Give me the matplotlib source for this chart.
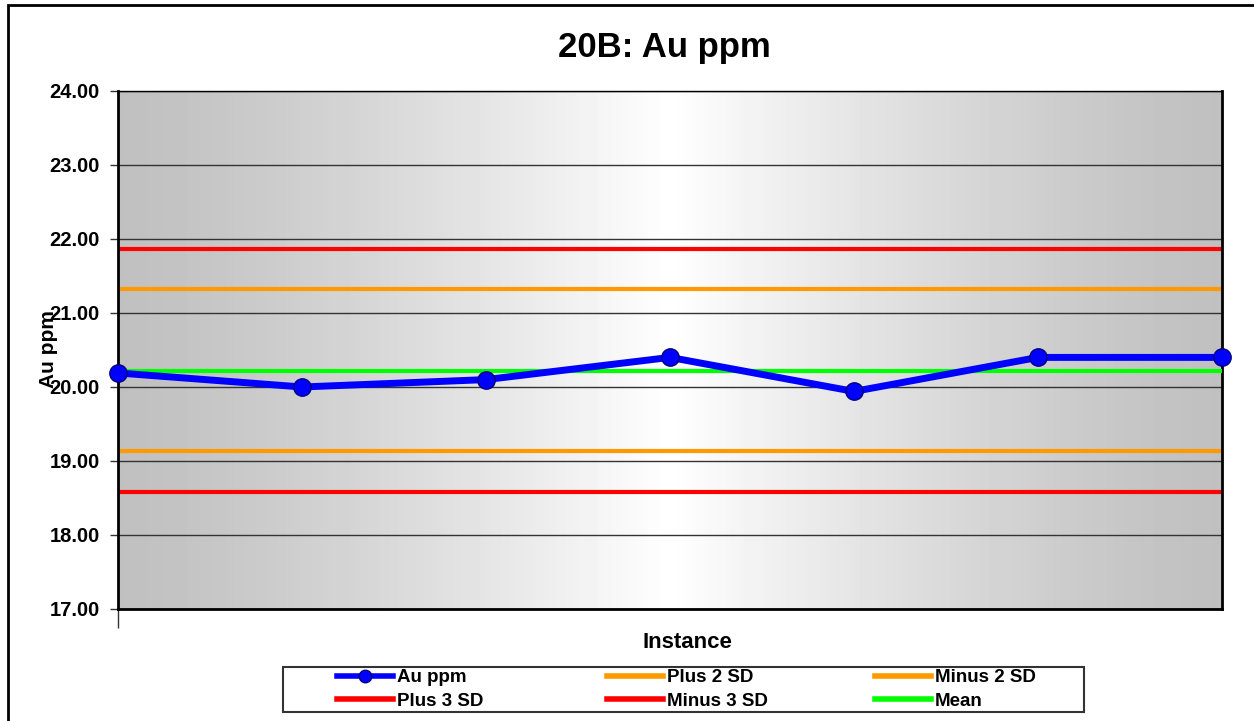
import matplotlib.pyplot as plt
import numpy as np
from matplotlib.patches import Rectangle
from matplotlib.lines import Line2D

plt.rcParams['font.family'] = ['Liberation Sans', 'DejaVu Sans']

instances = [1, 2, 3, 4, 5, 6, 7]
au_ppm = [20.19, 20.00, 20.10, 20.40, 19.94, 20.40, 20.40]
mean = 20.22
plus_2sd = 21.32
minus_2sd = 19.13
plus_3sd = 21.87
minus_3sd = 18.58

W, H = 1254, 721
fig = plt.figure(figsize=(W / 100, H / 100), dpi=100)
ax = fig.add_axes([118 / W, 1 - 609 / H, (1222 - 118) / W, (609 - 91) / H])

# horizontal gray-white-gray gradient background
t = np.linspace(0, 1, 256)
shade = 0.753 + (1.0 - 0.753) * (1 - np.abs(2 * t - 1)) ** 1.3
ax.imshow(np.tile(shade, (2, 1)), cmap="gray", vmin=0, vmax=1, aspect="auto",
          extent=[0, 1, 0, 1], transform=ax.transAxes, zorder=0)

x = np.arange(len(instances))
for y in range(17, 25):
    ax.axhline(y, color="#333333", linewidth=1, zorder=1)

ax.axhline(plus_3sd, color="#ff0000", linewidth=3, zorder=2)
ax.axhline(plus_2sd, color="#ff9900", linewidth=3, zorder=2)
ax.axhline(minus_2sd, color="#ff9900", linewidth=3, zorder=2)
ax.axhline(minus_3sd, color="#ff0000", linewidth=3, zorder=2)
ax.axhline(mean, color="#00ff00", linewidth=3, zorder=3)
ax.plot(x, au_ppm, color="#0000ff", linewidth=5, marker="o", markersize=12.5,
        markerfacecolor="#0000ff", markeredgecolor="#000080", markeredgewidth=1,
        zorder=4, clip_on=False)

ax.set_xlim(0, len(instances) - 1)
ax.set_ylim(17, 24)
ax.set_yticks(range(17, 25))
ax.set_yticklabels([f"{v:.2f}" for v in range(17, 25)], fontsize=14.5, fontweight="bold")
ax.set_xticks([0])
ax.set_xticklabels([""])
ax.tick_params(axis="x", length=14, width=1, color="#333333")
ax.tick_params(axis="y", length=6, width=1, color="#333333", pad=7)
for side in ["left", "right", "bottom"]:
    ax.spines[side].set_linewidth(2)
ax.spines["top"].set_linewidth(1)

fig.text(664 / W, 1 - 57 / H, "20B: Au ppm", fontsize=25, fontweight="bold",
         ha="center", va="baseline")
fig.text(687 / W, 1 - 648 / H, "Instance", fontsize=16, fontweight="bold",
         ha="center", va="baseline")
fig.text(49 / W, 1 - 349 / H, "Au ppm", rotation=90, fontsize=15, fontweight="bold",
         ha="center", va="center")

def h(color, marker=None):
    return Line2D([], [], color=color, linewidth=4, marker=marker, markersize=9,
                  markerfacecolor=color, markeredgecolor="#000080")

columns = [
    ([h("#0000ff", "o"), h("#ff0000")], ["Au ppm", "Plus 3 SD"], 337),
    ([h("#ff9900"), h("#ff0000")], ["Plus 2 SD", "Minus 3 SD"], 607),
    ([h("#ff9900"), h("#00ff00")], ["Minus 2 SD", "Mean"], 875),
]
for handles, labels, xpos in columns:
    leg = fig.legend(handles, labels, loc="center left",
                     bbox_to_anchor=(xpos / W, 1 - 689.5 / H), frameon=False,
                     prop={"weight": "bold", "size": 13.5}, handlelength=3.0,
                     labelspacing=0.32, handletextpad=0.2, borderpad=0,
                     borderaxespad=0)

fig.patches.append(Rectangle((283 / W, 1 - 712 / H), (1084 - 283) / W, 45 / H,
                             transform=fig.transFigure, fill=False,
                             edgecolor="#333333", linewidth=1.5))
fig.patches.append(Rectangle((8 / W, -0.02), 1.0, 1.02 - 5 / H,
                             transform=fig.transFigure, fill=False,
                             edgecolor="black", linewidth=2))

fig.savefig("out.png", dpi=100)
